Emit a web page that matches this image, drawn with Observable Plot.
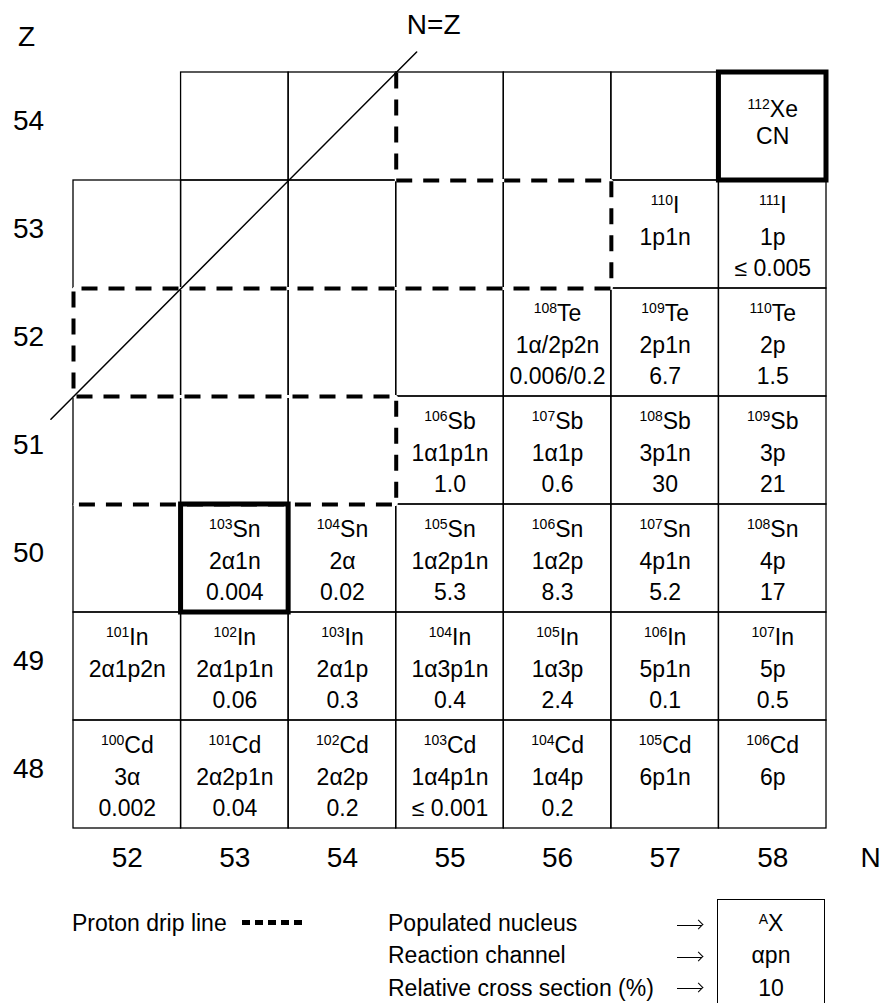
<!DOCTYPE html>
<html>
<head>
<meta charset="utf-8">
<script src="https://cdn.jsdelivr.net/npm/d3@7"></script>
<script src="https://cdn.jsdelivr.net/npm/@observablehq/plot@0.6"></script>
<style>
  body { margin: 0; background: #fff; overflow: hidden; color: #000;
         font-family: "Liberation Sans", Arial, Helvetica, sans-serif; }
  #legend { position: relative; width: 882px; height: 118px; font-size: 23px; }
  #legend div { position: absolute; white-space: nowrap; line-height: 1; }
  #legend .arrow { width: 25px; height: 0; border-top: 1.3px solid #000; }
  #legend .arrow::after { content: ""; position: absolute; right: 0; top: -4.6px; width: 7px; height: 7px;
                          border-top: 1.3px solid #000; border-right: 1.3px solid #000; transform: rotate(45deg); transform-origin: center; box-sizing: border-box; }
  #legend .box { border: 1.5px solid #000; box-sizing: border-box; }
  #legend .boxline { left: 0; width: 100%; text-align: center; }
  #legend .drip { background: repeating-linear-gradient(to right, #000 0 8.5px, transparent 8.5px 13px); }
  .sup { font-size: 14px; position: relative; top: -7px; }
</style>
</head>
<body>
<div id="chart"></div>
<div id="legend">
  <div style="left:72px; top:27px">Proton drip line</div>
  <div class="drip" style="left:242px; top:35px; width:63px; height:5px"></div>
  <div style="left:388px; top:27px">Populated nucleus</div>
  <div style="left:388px; top:59px">Reaction channel</div>
  <div style="left:388px; top:92px">Relative cross section (%)</div>
  <div class="arrow" style="left:677px; top:40px"></div>
  <div class="arrow" style="left:677px; top:72px"></div>
  <div class="arrow" style="left:677px; top:103px"></div>
  <div class="box" style="left:717px; top:14px; width:108px; height:130px">
    <div class="boxline" style="top:12px"><span class="sup">A</span>X</div>
    <div class="boxline" style="top:44px">αpn</div>
    <div class="boxline" style="top:77px">10</div>
  </div>
</div>
<script>
const FONT = '"Liberation Sans", Arial, Helvetica, sans-serif';

// Axis tick labels
const neutronNumbers = [52, 53, 54, 55, 56, 57, 58];
const protonNumbers = [48, 49, 50, 51, 52, 53, 54];
// First neutron number drawn in each row (Z = 48 … 54); every row ends at N = 58
const rowFirstN = [52, 52, 52, 52, 52, 52, 53];
const lastN = 58;

// Populated nuclei
const nuclideZ = [54, 53, 53, 52, 52, 52, 51, 51, 51, 51,
                  50, 50, 50, 50, 50, 50,
                  49, 49, 49, 49, 49, 49, 49,
                  48, 48, 48, 48, 48, 48, 48];
const nuclideN = [58, 57, 58, 56, 57, 58, 55, 56, 57, 58,
                  53, 54, 55, 56, 57, 58,
                  52, 53, 54, 55, 56, 57, 58,
                  52, 53, 54, 55, 56, 57, 58];
const massNumbers = [112, 110, 111, 108, 109, 110, 106, 107, 108, 109,
                     103, 104, 105, 106, 107, 108,
                     101, 102, 103, 104, 105, 106, 107,
                     100, 101, 102, 103, 104, 105, 106];
const symbols = ["Xe", "I", "I", "Te", "Te", "Te", "Sb", "Sb", "Sb", "Sb",
                 "Sn", "Sn", "Sn", "Sn", "Sn", "Sn",
                 "In", "In", "In", "In", "In", "In", "In",
                 "Cd", "Cd", "Cd", "Cd", "Cd", "Cd", "Cd"];
const channels = ["CN", "1p1n", "1p", "1α/2p2n", "2p1n", "2p", "1α1p1n", "1α1p", "3p1n", "3p",
                  "2α1n", "2α", "1α2p1n", "1α2p", "4p1n", "4p",
                  "2α1p2n", "2α1p1n", "2α1p", "1α3p1n", "1α3p", "5p1n", "5p",
                  "3α", "2α2p1n", "2α2p", "1α4p1n", "1α4p", "6p1n", "6p"];
const crossSections = ["", "", "≤ 0.005", "0.006/0.2", "6.7", "1.5", "1.0", "0.6", "30", "21",
                       "0.004", "0.02", "5.3", "8.3", "5.2", "17",
                       "", "0.06", "0.3", "0.4", "2.4", "0.1", "0.5",
                       "0.002", "0.04", "0.2", "≤ 0.001", "0.2", "", ""];

// Boxed nuclei: compound nucleus and 103Sn
const highlightN = [58, 53];
const highlightZ = [54, 50];

// Proton drip line, traced along cell edges
const dripN = [54.5, 54.5, 56.5, 56.5, 51.5, 51.5, 54.5, 54.5, 51.5];
const dripZ = [54.5, 53.5, 53.5, 52.5, 52.5, 51.5, 51.5, 50.5, 50.5];

// N = Z diagonal end points
const diagonalN = [51.29, 54.69];
const diagonalZ = [51.29, 54.69];

const cells = protonNumbers.flatMap((Z, i) =>
  d3.range(rowFirstN[i], lastN + 1).map(N => ({N, Z})));
const nuclides = nuclideZ.map((Z, i) => ({
  Z, N: nuclideN[i], A: massNumbers[i], symbol: symbols[i],
  channel: channels[i], xs: crossSections[i], cn: channels[i] === "CN"
}));
const products = nuclides.filter(d => !d.cn);
const compound = nuclides.filter(d => d.cn);
const highlighted = highlightN.map((N, i) => ({N, Z: highlightZ[i]}));
const drip = dripN.map((N, i) => ({N, Z: dripZ[i]}));
const diagonal = diagonalN.map((N, i) => ({N, Z: diagonalZ[i]}));

const cellRect = {x1: d => d.N - 0.5, x2: d => d.N + 0.5, y1: d => d.Z - 0.5, y2: d => d.Z + 0.5, fill: "none", stroke: "#000"};
const label = d => `${d.A}|${d.symbol}`;

const plot = Plot.plot({
  width: 882,
  height: 885,
  marginTop: 0, marginRight: 0, marginBottom: 0, marginLeft: 0,
  x: {domain: [51.5, 58.5], range: [73, 826], axis: null},
  y: {domain: [47.5, 54.5], range: [828, 72], axis: null},
  style: {fontFamily: FONT, fontSize: "23px", color: "#000", background: "#fff", overflow: "visible"},
  marks: [
    Plot.rect(cells, {...cellRect, strokeWidth: 1.3}),
    Plot.line(drip, {x: "N", y: "Z", stroke: "#fff", strokeWidth: 3, strokeLinecap: "butt", strokeLinejoin: "miter"}),
    Plot.line(drip, {x: "N", y: "Z", stroke: "#000", strokeWidth: 4, strokeDasharray: "16,11", strokeLinecap: "butt", strokeLinejoin: "miter"}),
    Plot.rect(highlighted, {...cellRect, strokeWidth: 5}),
    Plot.line(diagonal, {x: "N", y: "Z", stroke: "#000", strokeWidth: 1.5}),
    // nuclide names, reaction channels, cross sections
    Plot.text(products, {x: "N", y: "Z", text: label, dy: -29}),
    Plot.text(products, {x: "N", y: "Z", text: "channel", dy: 3}),
    Plot.text(products.filter(d => d.xs), {x: "N", y: "Z", text: "xs", dy: 34}),
    Plot.text(compound, {x: "N", y: "Z", text: label, dy: -17}),
    Plot.text(compound, {x: "N", y: "Z", text: "channel", dy: 10}),
    // axes
    Plot.text(protonNumbers, {y: d => d, frameAnchor: "left", dx: 28, dy: -5, textAnchor: "middle", lineAnchor: "middle", fontSize: 28}),
    Plot.text(neutronNumbers, {x: d => d, frameAnchor: "bottom", dy: -27, lineAnchor: "middle", fontSize: 28}),
    Plot.text(["Z"], {frameAnchor: "top-left", dx: 26, dy: 37, textAnchor: "middle", lineAnchor: "middle", fontSize: 28}),
    Plot.text(["N"], {frameAnchor: "bottom-right", dx: -12, dy: -27, textAnchor: "middle", lineAnchor: "middle", fontSize: 28}),
    Plot.text(diagonal.slice(1), {x: "N", y: () => 54.5, text: () => "N=Z", dx: 17, dy: -47, fontSize: 28})
  ]
});

// Mass numbers as superscripts in front of the element symbol
d3.select(plot).selectAll("text").each(function () {
  if (!this.textContent.includes("|")) return;
  const [a, s] = this.textContent.split("|");
  const t = d3.select(this).text(null);
  t.append("tspan").attr("font-size", 14).attr("dy", -8).text(a);
  t.append("tspan").attr("dy", 8).text(s);
});

document.getElementById("chart").append(plot);
</script>
</body>
</html>
